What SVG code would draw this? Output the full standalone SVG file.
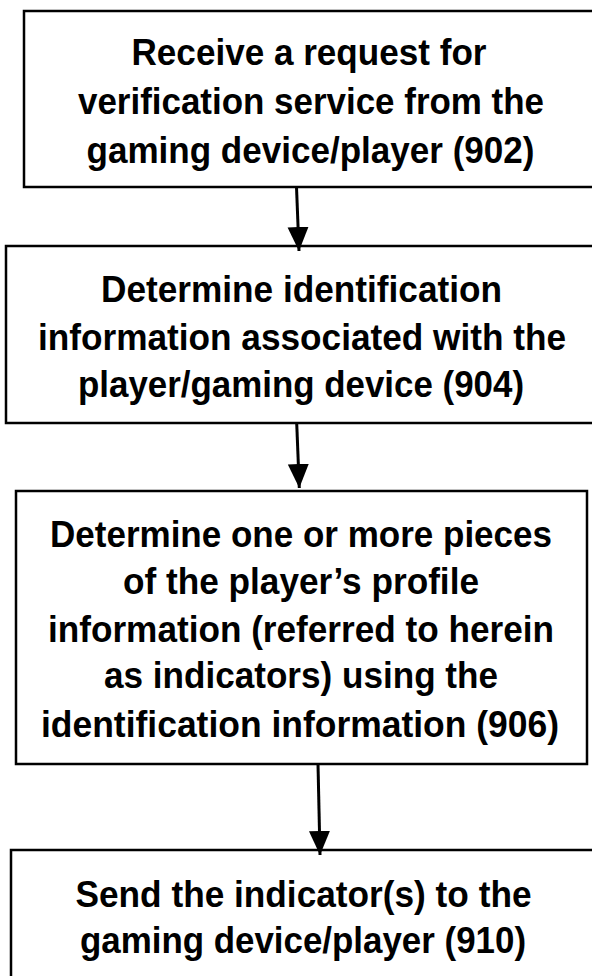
<svg xmlns="http://www.w3.org/2000/svg" width="592" height="976" viewBox="0 0 592 976">
<style>
.box{fill:#fff;stroke:#000;stroke-width:2.5}
.t{font-family:"Liberation Sans",Arial,sans-serif;font-weight:bold;font-size:37px;fill:#000}
.conn{stroke:#000;stroke-width:3;fill:none}
</style>
<defs>
<marker id="ah" markerUnits="userSpaceOnUse" markerWidth="25" markerHeight="22" refX="24" refY="10.5" orient="auto">
<path d="M0,0 L24,10.5 L0,21 z" fill="#000"/>
</marker>
</defs>
<rect width="592" height="976" fill="#fff"/>
<g id="n902">
<rect class="box" x="24" y="11" width="580" height="176"/>
<text class="t" x="131.5" y="65" textLength="355" lengthAdjust="spacingAndGlyphs">Receive a request for</text>
<text class="t" x="78" y="114" textLength="466" lengthAdjust="spacingAndGlyphs">verification service from the</text>
<text class="t" x="86.5" y="163" textLength="448" lengthAdjust="spacingAndGlyphs">gaming device/player (902)</text>
</g>
<g id="n904">
<rect class="box" x="6" y="246" width="600" height="177"/>
<text class="t" x="101" y="302" textLength="401" lengthAdjust="spacingAndGlyphs">Determine identification</text>
<text class="t" x="38" y="350" textLength="528" lengthAdjust="spacingAndGlyphs">information associated with the</text>
<text class="t" x="78" y="397" textLength="446" lengthAdjust="spacingAndGlyphs">player/gaming device (904)</text>
</g>
<g id="n906">
<rect class="box" x="16" y="491" width="571" height="273"/>
<text class="t" x="50" y="547" textLength="502" lengthAdjust="spacingAndGlyphs">Determine one or more pieces</text>
<text class="t" x="123" y="594" textLength="356" lengthAdjust="spacingAndGlyphs">of the player’s profile</text>
<text class="t" x="48" y="642" textLength="506" lengthAdjust="spacingAndGlyphs">information (referred to herein</text>
<text class="t" x="104" y="688" textLength="394" lengthAdjust="spacingAndGlyphs">as indicators) using the</text>
<text class="t" x="41" y="737" textLength="518" lengthAdjust="spacingAndGlyphs">identification information (906)</text>
</g>
<g id="n910">
<rect class="box" x="11" y="850" width="600" height="200"/>
<text class="t" x="75.5" y="907" textLength="456" lengthAdjust="spacingAndGlyphs">Send the indicator(s) to the</text>
<text class="t" x="80" y="953" textLength="446" lengthAdjust="spacingAndGlyphs">gaming device/player (910)</text>
</g>
<g id="connectors">
<line class="conn" x1="296.5" y1="187" x2="299" y2="251" marker-end="url(#ah)"/>
<line class="conn" x1="296.7" y1="423" x2="299.3" y2="488" marker-end="url(#ah)"/>
<line class="conn" x1="318" y1="764" x2="320" y2="855" marker-end="url(#ah)"/>
</g>
</svg>
